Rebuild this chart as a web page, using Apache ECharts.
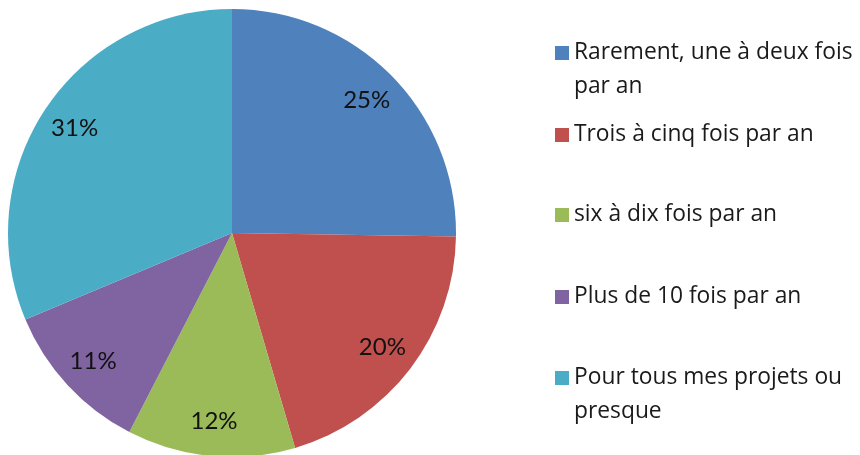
<!DOCTYPE html>
<html>
<head>
<meta charset="utf-8">
<script src="https://cdn.jsdelivr.net/npm/echarts@6/dist/echarts.min.js"></script>
<style>
  html, body { margin: 0; padding: 0; background: #fff; }
  #chart { width: 860px; height: 455px; }
</style>
</head>
<body>
<div id="chart"></div>
<script>
// categories (line breaks as in the legend of the original)
var categories = [
  'Rarement, une à deux fois\npar an',
  'Trois à cinq fois par an',
  'six à dix fois par an',
  'Plus de 10 fois par an',
  'Pour tous mes projets ou\npresque'
];
var values = [25, 20, 12, 11, 31];
var colors = ['#4F81BD', '#C0504D', '#9BBB59', '#8064A2', '#4BACC6'];

// first-line centre of each legend entry
var legendRows = [53, 135, 215, 297, 378];

var chart = echarts.init(document.getElementById('chart'));

var pieData = categories.map(function (name, i) {
  return { name: name, value: values[i] };
});

// one legend per entry so the spacing stays even like in the original
var legends = categories.map(function (name, i) {
  var wrapped = name.indexOf('\n') >= 0;
  return {
    orient: 'vertical',
    left: 555,
    top: legendRows[i] - (wrapped ? 51 : 17),
    padding: 0,
    itemWidth: 14,
    itemHeight: 14,
    icon: 'rect',
    selectedMode: false,
    data: [name],
    formatter: function (n) {
      // blank line on top keeps the icon level with the first line
      return n.indexOf('\n') >= 0 ? '\n' + n : n;
    },
    textStyle: {
      fontFamily: 'Open Sans',
      fontSize: 22.8,
      lineHeight: 34,
      color: '#1a1a1a'
    }
  };
});

var option = {
  animation: false,
  color: colors,
  legend: legends,
  series: [
    {
      type: 'pie',
      center: [232, 233],
      radius: [0, 224],
      startAngle: 90,
      clockwise: true,
      silent: true,
      label: { show: false },
      labelLine: { show: false },
      data: pieData
    },
    {
      // transparent ring that only carries the percentage labels
      type: 'pie',
      center: [232, 233],
      radius: [148, 224],
      startAngle: 90,
      clockwise: true,
      silent: true,
      itemStyle: { color: 'rgba(0,0,0,0)' },
      label: {
        show: true,
        position: 'inside',
        formatter: '{c}%',
        fontFamily: 'Lato',
        fontSize: 24,
        color: '#111',
        textBorderWidth: 0
      },
      labelLine: { show: false },
      data: pieData
    }
  ]
};

chart.setOption(option);
</script>
</body>
</html>
